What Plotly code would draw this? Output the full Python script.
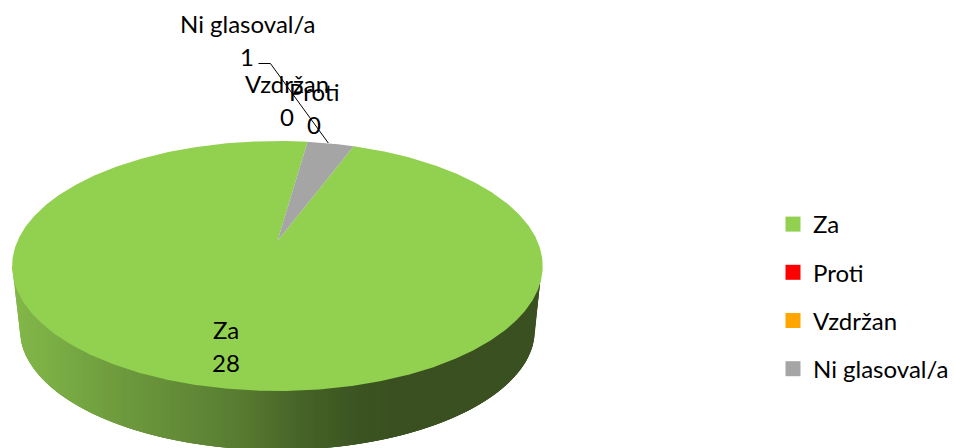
import numpy as np
import plotly.graph_objects as go

# ---- data ----
categories = ["Za", "Proti", "Vzdržan", "Ni glasoval/a"]
values = [28, 0, 0, 1]
slice_colors = ["#92D050", "#FF0000", "#FFA500", "#A5A5A5"]
first_slice_angle = 20.4

# ---- geometry of the tilted disc (pixels) ----
APEX = (278.0, 241.0)
BX, BY, K = 260.5, 120.0, 0.2
BOT_CY, BOT_RX, BOT_RY = 330.0, 258.0, 120.0
FONT = "Lato, Carlito, Calibri, sans-serif"
FS = 24


def project(deg):
    t = np.radians(deg)
    s = 1 + K * np.cos(t)
    return APEX[0] + BX * np.sin(t) / s, APEX[1] - BY * np.cos(t) / s


def side_bottom(x):
    dx = np.clip((x - APEX[0]) / BOT_RX, -1, 1)
    return BOT_CY + BOT_RY * np.sqrt(1 - dx * dx)


fig = go.Figure()

# side wall as vertical strips with a horizontal gradient; each strip overlaps the next
stop_x = [12, 60, 120, 180, 240, 300, 360, 400, 543]
stop_r = [132, 122, 110, 100, 88, 72, 60, 58, 58]
stop_g = [184, 172, 155, 140, 124, 100, 84, 80, 80]
stop_b = [74, 69, 62, 56, 50, 40, 34, 32, 32]
edges = np.arange(12.0, 543.0, 3.0)
for x0 in edges:
    x1 = min(x0 + 9.0, 543.0)
    xs = np.linspace(x0, x1, 5)
    ys = []
    for x in xs:
        if x < APEX[0] - BOT_RX:
            f = (x - 12) / (APEX[0] - BOT_RX - 12)
            ys.append(266 + f * (BOT_CY - 266))
        elif x > APEX[0] + BOT_RX:
            f = (543 - x) / (543 - APEX[0] - BOT_RX)
            ys.append(266 + f * (BOT_CY - 266))
        else:
            ys.append(side_bottom(x))
    xm = x0 + 1.5
    c = "rgb(%d,%d,%d)" % (np.interp(xm, stop_x, stop_r), np.interp(xm, stop_x, stop_g), np.interp(xm, stop_x, stop_b))
    fig.add_trace(go.Scatter(
        x=[x0, x1] + list(xs[::-1]) + [x0], y=[266, 266] + ys[::-1] + [266],
        mode="lines", fill="toself", fillcolor=c, line=dict(width=0),
        hoverinfo="skip", showlegend=False))

# top face wedges, computed from the values
total = sum(values)
start = first_slice_angle
for name, v, col in zip(categories, values, slice_colors):
    sweep = 360.0 * v / total
    if v > 0:
        ang = np.linspace(start, start + sweep, max(int(sweep * 2), 8))
        px, py = project(ang)
        fig.add_trace(go.Scatter(
            x=[APEX[0]] + list(px) + [APEX[0]], y=[APEX[1]] + list(py) + [APEX[1]],
            mode="lines", fill="toself", fillcolor=col, line=dict(width=0),
            name=name, hoverinfo="name", showlegend=False))
    start += sweep

# leader line
fig.add_trace(go.Scatter(x=[259, 271, 329], y=[63.5, 63.5, 143], mode="lines",
                         line=dict(color="#000000", width=1), hoverinfo="skip", showlegend=False))

# legend
for name, col in zip(categories, slice_colors):
    fig.add_trace(go.Scatter(x=[None], y=[None], mode="markers", name=name, legendgroup=name,
                             marker=dict(symbol="square", size=15, color=col)))

# data labels
label_pos = [(226, 329, 362), (315, 91, 124), (288, 83, 116), (248, 23, 56)]
annotations = []
for name, v, (ax, y1, y2) in zip(categories, values, label_pos):
    annotations.append(dict(x=ax, y=y1, text=name, showarrow=False, xref="x", yref="y",
                            font=dict(family=FONT, size=FS, color="#000000")))
    annotations.append(dict(x=ax, y=y2, text=str(v), showarrow=False, xref="x", yref="y",
                            font=dict(family=FONT, size=FS, color="#000000")))

fig.update_layout(
    width=954, height=448, margin=dict(l=0, r=0, t=0, b=0),
    paper_bgcolor="#FFFFFF", plot_bgcolor="#FFFFFF",
    xaxis=dict(range=[0, 954], visible=False, fixedrange=True),
    yaxis=dict(range=[448, 0], visible=False, fixedrange=True),
    annotations=annotations,
    legend=dict(x=775 / 954, y=1 - 202 / 448, xanchor="left", yanchor="top",
                font=dict(family=FONT, size=FS, color="#000000"),
                tracegroupgap=14, itemwidth=30, bgcolor="rgba(0,0,0,0)"),
)
fig.write_html("out.html", config=dict(displayModeBar=False),
               post_script="document.body.style.margin='0';")
